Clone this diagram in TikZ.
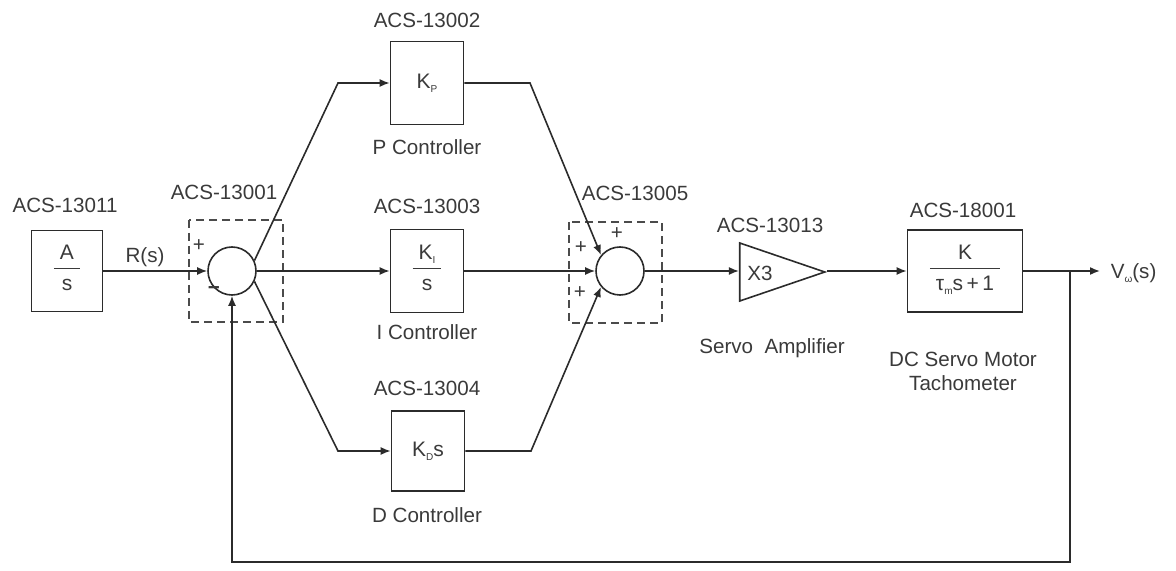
\documentclass[tikz,border=0pt]{standalone}
\usepackage{fontspec}
\setmainfont{Liberation Sans}
\usetikzlibrary{arrows.meta,shapes.geometric}
\definecolor{cizgiGri}{HTML}{2B2B2B}
\definecolor{yaziGri}{HTML}{3A3A3A}
\newcommand{\altind}[1]{\raisebox{-2pt}{\fontsize{5}{5}\selectfont #1}}
\newcommand{\kesir}[2]{{\renewcommand{\arraystretch}{0.85}\begin{tabular}{@{\hspace{3pt}}c@{\hspace{3pt}}}#1\\[1pt]\hline\rule{0pt}{11pt}#2\end{tabular}}}
\begin{document}
\begin{tikzpicture}[x=0.5pt,y=-0.5pt,line width=0.8pt,
  blok/.style={draw=cizgiGri,minimum width=36.5pt,minimum height=41.5pt,inner sep=0pt,text=yaziGri,font=\fontsize{10.5}{12}\selectfont},
  toplam/.style={draw=cizgiGri,circle,minimum size=24pt,inner sep=0pt},
  yazi/.style={text=yaziGri,font=\fontsize{10.3}{12}\selectfont,inner sep=0pt},
  ok/.style={draw=cizgiGri,-{Latex[length=5pt,width=4pt]}},
  kesik/.style={draw=cizgiGri!85,dashed,dash pattern=on 4pt off 2.5pt,line width=0.7pt}]
\useasboundingbox (0,0) rectangle (1176,571);
% bloklar
\node[blok,minimum width=35.5pt,minimum height=40.5pt] (aBlok) at (67,271) {\kesir{A}{s}};
\node[toplam] (top1) at (232,271) {};
\node[blok] (pBlok) at (427,83) {K\altind{P}};
\node[blok] (iBlok) at (427,271) {\kesir{K\altind{I}}{s}};
\node[blok,minimum height=40pt] (dBlok) at (428,451) {K\altind{D}s};
\node[toplam] (top2) at (620,271) {};
\node[draw=cizgiGri,isosceles triangle,isosceles triangle stretches,minimum width=29pt,minimum height=42.5pt,inner sep=0pt] (amp) at (760.5,272) {};
\node[blok,minimum width=57.5pt,minimum height=41pt] (motor) at (965,271) {\kesir{K}{τ\altind{m}s\,+\,1}};
% kesikli kutular
\draw[kesik] (189,220) rectangle (283,322);
\draw[kesik] (569,222) rectangle (662,323);
% baglantilar
\coordinate (pGir) at (338,83);
\coordinate (pCik) at (530,83);
\coordinate (dGir) at (338,451);
\coordinate (dCik) at (531,451);
\coordinate (dal) at (1070,271);
\coordinate (cikis) at (1100,271);
\coordinate (geriAlt) at (1070,562);
\draw[ok] (aBlok) -- (top1);
\draw[ok] (top1.25) -- (pGir) -- (pBlok);
\draw[ok] (top1) -- (iBlok);
\draw[ok] (top1.-25) -- (dGir) -- (dBlok);
\draw[ok] (pBlok) -- (pCik) -- (top2.140);
\draw[ok] (iBlok) -- (top2);
\draw[ok] (dBlok) -- (dCik) -- (top2.-140);
\draw[ok] (top2) -- (amp.west |- top2);
\draw[ok] (amp.apex |- motor) -- (motor);
\draw[ok] (motor) -- (cikis);
\draw[ok] (dal) -- (geriAlt) -| (top1);
% yazilar
\node[yazi] (eA) at (65,205) {ACS-13011};
\node[yazi] (eR) at (145,257) {R(s)};
\node[yazi] (e1) at (224,192) {ACS-13001};
\node[yazi] (art1) at (199,246) {+};
\node[yazi] (eks1) at (214,291) {\textbf{−}};
\node[yazi] (eP) at (427,20) {ACS-13002};
\node[yazi] (adP) at (427,147) {P Controller};
\node[yazi] (eI) at (427,206) {ACS-13003};
\node[yazi] (adI) at (427,332) {I Controller};
\node[yazi] (eD) at (427,388) {ACS-13004};
\node[yazi] (adD) at (427,515) {D Controller};
\node[yazi] (e5) at (635,193) {ACS-13005};
\node[yazi] (art2) at (617,234) {+};
\node[yazi] (art3) at (581,248) {+};
\node[yazi] (art4) at (580,293) {+};
\node[yazi] (e13) at (770,225) {ACS-13013};
\node[yazi] (x3) at (760,273) {X3};
\node[yazi] (adAmp) at (772,348) {Servo\ \ Amplifier};
\node[yazi] (e18) at (963,210) {ACS-18001};
\node[yazi,align=center] (adMotor) at (963,371) {DC Servo Motor\\Tachometer};
\node[yazi,anchor=west] (vw) at (1110,273) {V\altind{ω}(s)};
\end{tikzpicture}
\end{document}
